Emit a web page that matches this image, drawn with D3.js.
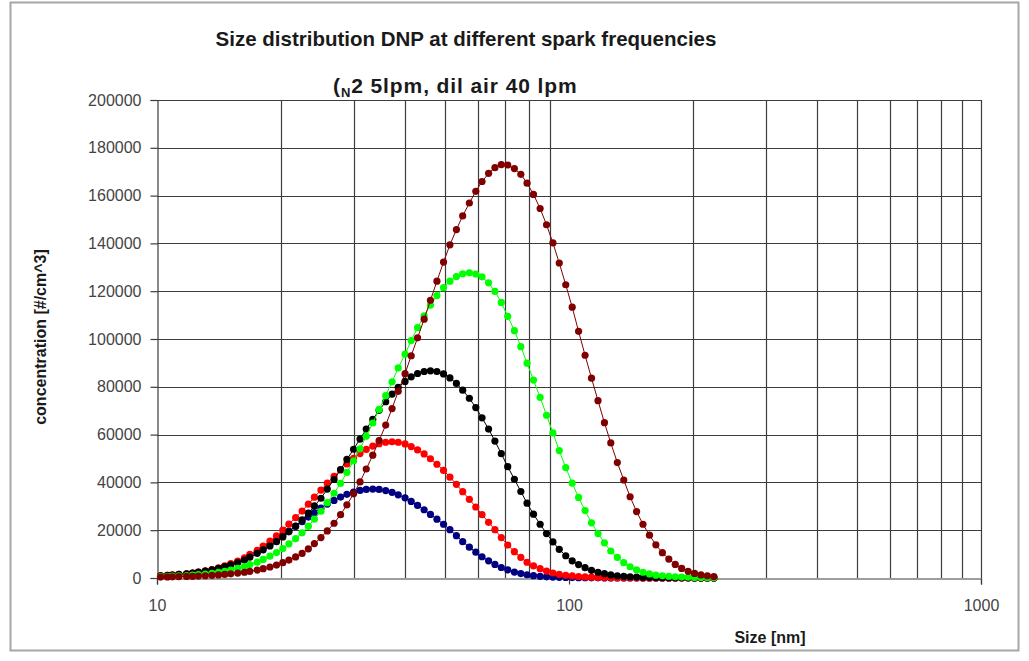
<!DOCTYPE html>
<html>
<head>
<meta charset="utf-8">
<script src="https://cdn.jsdelivr.net/npm/d3@7"></script>
<style>
  html, body { margin: 0; padding: 0; background: #ffffff; }
  svg { display: block; }
</style>
</head>
<body>
<svg id="chart" width="1029" height="661"></svg>
<script>
// ---------- data ----------
const titleLine1 = "Size distribution DNP at different spark frequencies";
const xTitle = "Size [nm]";
const yTitle = "concentration [#/cm^3]";

const sizes = [10.2, 10.6, 10.9, 11.3, 11.8, 12.2, 12.6, 13.1, 13.6, 14.1,
  14.6, 15.1, 15.7, 16.3, 16.8, 17.5, 18.1, 18.8, 19.5, 20.2,
  20.9, 21.7, 22.5, 23.3, 24.1, 25.0, 25.9, 26.9, 27.9, 28.9,
  30.0, 31.1, 32.2, 33.4, 34.6, 35.9, 37.2, 38.5, 40.0, 41.4,
  42.9, 44.5, 46.1, 47.8, 49.6, 51.4, 53.3, 55.2, 57.3, 59.4,
  61.5, 63.8, 66.1, 68.5, 71.0, 73.7, 76.4, 79.1, 82.0, 85.1,
  88.2, 91.4, 94.7, 98.2, 101.8, 105.5, 109.4, 113.4, 117.6, 121.9,
  126.3, 131.0, 135.8, 140.7, 145.9, 151.2, 156.8, 162.5, 168.5, 174.7,
  181.1, 187.7, 194.6, 201.7, 209.1, 216.7, 224.7];

const blueSeries = [730, 870, 1050, 1280, 1550, 1900, 2300, 2750, 3300, 3950,
  4700, 5650, 6700, 7900, 9250, 10750, 12400, 14130, 15890, 17730,
  19630, 21590, 23540, 25490, 27380, 29200, 30920, 32470, 33840, 35020,
  35960, 36640, 37060, 37200, 37050, 36590, 35840, 34820, 33550, 32060,
  30380, 28550, 26620, 24610, 22500, 20200, 17700, 15200, 12900, 10800,
  8900, 7200, 5700, 4400, 3400, 2500, 1850, 1350, 980, 700,
  500, 370, 280, 210, 160, 120, 100, 80, 60, 50,
  40, 30, 30, 20, 20, 20, 10, 10, 10, 10,
  10, 0, 0, 0, 0, 0, 0];

const redSeries = [1000, 1150, 1320, 1520, 1780, 2100, 2500, 2980, 3550, 4250,
  5050, 5980, 7100, 8380, 9870, 11530, 13380, 15410, 17620, 20010,
  22540, 25230, 28020, 30900, 33830, 36770, 39670, 42500, 45200, 47730,
  50030, 52060, 53800, 55200, 56200, 56800, 57000, 56800, 56100, 55000,
  53600, 51900, 49900, 47600, 45000, 42200, 39200, 36100, 32900, 29700,
  26500, 23300, 20200, 16900, 13800, 11000, 8600, 6600, 5100, 3900,
  2900, 2100, 1550, 1150, 850, 620, 460, 340, 250, 190,
  140, 110, 90, 70, 60, 50, 40, 30, 30, 20,
  20, 20, 10, 10, 10, 10, 10];

const blackSeries = [900, 1060, 1250, 1480, 1750, 2070, 2450, 2900, 3420, 4020,
  4720, 5520, 6450, 7500, 8700, 10330, 11770, 13390, 15180, 17170,
  19340, 21720, 24310, 27120, 30140, 33360, 37200, 41220, 45360, 49600,
  53870, 58120, 62300, 66330, 70170, 73740, 76970, 79820, 82230, 84160,
  85560, 86410, 86700, 86400, 85400, 83700, 81400, 78600, 75200, 71300,
  67000, 62300, 57300, 52000, 46600, 41300, 36200, 31300, 26700, 22500,
  18600, 15100, 12000, 9300, 7200, 5600, 4300, 3200, 2400, 1800,
  1300, 950, 700, 520, 400, 300, 230, 180, 140, 110,
  90, 70, 60, 50, 40, 30, 30];

const greenSeries = [600, 680, 780, 900, 1050, 1230, 1440, 1680, 1990, 2360,
  2800, 3350, 4000, 4740, 5620, 6630, 7780, 9120, 10630, 12350,
  14290, 16470, 18910, 21630, 24630, 27930, 31530, 35440, 39650, 44160,
  48960, 54040, 59330, 64850, 70520, 76290, 82110, 87900, 93650, 99350,
  104720, 109710, 114200, 118170, 121500, 124190, 126130, 127300, 127700, 127200,
  126000, 123500, 119900, 115300, 109500, 103500, 96800, 89900, 82800, 75600,
  68100, 60700, 53300, 46200, 39700, 33700, 28200, 23100, 18600, 14700,
  11300, 8600, 6400, 4700, 3400, 2400, 1700, 1200, 900, 650,
  500, 400, 320, 260, 220, 180, 150];

const darkRedSeries = [400, 450, 500, 560, 640, 720, 820, 950, 1100, 1280,
  1500, 1750, 2050, 2400, 2800, 3300, 3900, 4600, 5400, 6400,
  7500, 8800, 10300, 12200, 14400, 16900, 19700, 22900, 26500, 30600,
  35200, 40200, 45600, 51400, 57500, 64000, 70900, 78100, 85500, 93000,
  100500, 108300, 116200, 124200, 132200, 139400, 145800, 151500, 156900, 161800,
  165900, 169300, 171700, 173000, 172800, 171300, 168900, 165200, 160500, 154600,
  147800, 140200, 131800, 122700, 113300, 103200, 93200, 83600, 74200, 65000,
  56500, 48300, 41000, 34000, 27800, 22500, 17900, 13900, 10600, 7900,
  5700, 4000, 2800, 1900, 1300, 900, 600];

const seriesColors = ["#000080", "#ff0000", "#000000", "#00ff00", "#800000"];
const xTickValues = [10, 100, 1000];
const xGridValues = [20, 30, 40, 50, 60, 70, 80, 90, 200, 300, 400, 500, 600, 700, 800, 900];
const yTickValues = [0, 20000, 40000, 60000, 80000, 100000, 120000, 140000, 160000, 180000, 200000];

// ---------- drawing ----------
const allSeries = [blueSeries, redSeries, blackSeries, greenSeries, darkRedSeries];
const svg = d3.select("#chart");
const plot = { left: 157, right: 981, top: 100, bottom: 578 };

// outer chart border
svg.append("rect")
  .attr("x", 10.5).attr("y", 2.5)
  .attr("width", 1008).attr("height", 648)
  .attr("fill", "#ffffff").attr("stroke", "#a6a6a6").attr("stroke-width", 2);

const x = d3.scaleLog().domain([10, 1000]).range([plot.left, plot.right]);
const y = d3.scaleLinear().domain([0, 200000]).range([plot.bottom, plot.top]);

const grid = svg.append("g").attr("stroke", "#3c3c3c").attr("stroke-width", 1.2);
grid.selectAll("line.h").data(yTickValues.filter(d => d > 0)).enter().append("line")
  .attr("x1", plot.left).attr("x2", plot.right)
  .attr("y1", d => Math.round(y(d)) + 0.5).attr("y2", d => Math.round(y(d)) + 0.5);
grid.selectAll("line.v").data(xGridValues.concat([1000])).enter().append("line")
  .attr("y1", plot.top).attr("y2", plot.bottom)
  .attr("x1", d => Math.round(x(d)) + 0.5).attr("x2", d => Math.round(x(d)) + 0.5);

// axes
const fmt = d3.format("d");
const yAxis = svg.append("g")
  .attr("transform", `translate(${plot.left + 0.5},0)`)
  .call(d3.axisLeft(y).tickValues(yTickValues).tickFormat(fmt).tickSize(7).tickPadding(9));
const xAxis = svg.append("g")
  .attr("transform", `translate(0,${plot.bottom + 0.5})`)
  .call(d3.axisBottom(x).tickValues(xTickValues).tickFormat(fmt).tickSize(6).tickPadding(15));
[yAxis, xAxis].forEach(a => {
  a.select(".domain").attr("stroke", "#3c3c3c").attr("stroke-width", 1.2);
  a.selectAll(".tick line").attr("stroke", "#3c3c3c").attr("stroke-width", 1.2);
  a.selectAll(".tick text")
    .attr("font-family", "Liberation Sans, Arial, sans-serif")
    .attr("font-size", 16).attr("fill", "#444444");
});

// series
const line = d3.line().x((d, i) => x(sizes[i])).y(d => y(d));
allSeries.forEach((vals, k) => {
  const g = svg.append("g");
  g.append("path").datum(vals)
    .attr("d", line).attr("fill", "none")
    .attr("stroke", seriesColors[k]).attr("stroke-width", 1);
  g.selectAll("circle").data(vals).enter().append("circle")
    .attr("cx", (d, i) => x(sizes[i])).attr("cy", d => y(d))
    .attr("r", 3.6).attr("fill", seriesColors[k]);
});

// titles
const font = "Liberation Sans, Arial, sans-serif";
svg.append("text").attr("x", 466).attr("y", 46)
  .attr("text-anchor", "middle").attr("font-family", font)
  .attr("font-size", 20.5).attr("font-weight", "bold").attr("fill", "#1a1a1a")
  .text(titleLine1);
const t2 = svg.append("text").attr("x", 333).attr("y", 93)
  .attr("text-anchor", "start").attr("font-family", font)
  .attr("font-size", 21).attr("font-weight", "bold").attr("fill", "#1a1a1a")
  .attr("letter-spacing", 0.9);
t2.append("tspan").text("(");
t2.append("tspan").attr("font-size", 13).attr("dy", 4).text("N");
t2.append("tspan").attr("dy", -4).text("2 5lpm, dil air 40 lpm");

svg.append("text").attr("x", 770).attr("y", 643)
  .attr("text-anchor", "middle").attr("font-family", font)
  .attr("font-size", 16).attr("font-weight", "bold").attr("fill", "#1a1a1a")
  .text(xTitle);
svg.append("text")
  .attr("transform", "translate(46,337) rotate(-90)")
  .attr("text-anchor", "middle").attr("font-family", font)
  .attr("font-size", 16).attr("font-weight", "bold").attr("fill", "#1a1a1a")
  .text(yTitle);
</script>
</body>
</html>
